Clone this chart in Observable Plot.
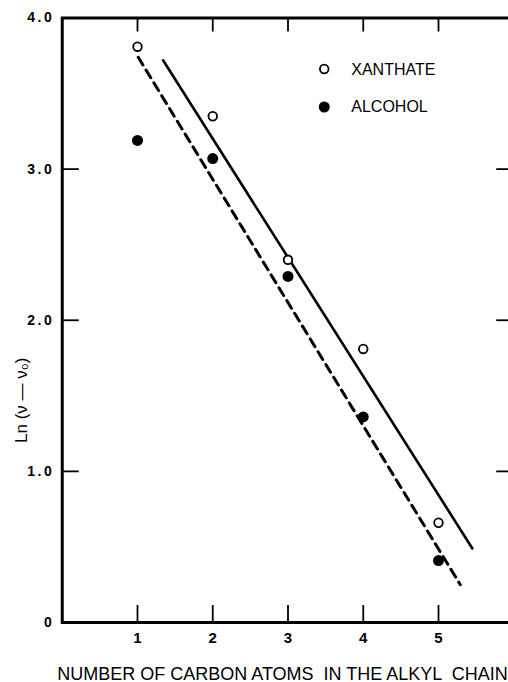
<!DOCTYPE html>
<html><head><meta charset="utf-8">
<script src="https://cdn.jsdelivr.net/npm/d3@7"></script>
<script src="https://cdn.jsdelivr.net/npm/@observablehq/plot@0.6"></script>
<style>
body{margin:0;background:#fff;}
#chart{width:508px;height:682px;overflow:hidden;}
#chart svg [aria-label="y-axis tick label"] text{letter-spacing:2.5px;}
#chart svg [aria-label="legend-text"] text{letter-spacing:1.3px;}
#chart svg [aria-label="y-title"] text{letter-spacing:2px;}
</style></head><body><div id="chart"></div>
<script>
// Data
const carbonAtoms = [1, 2, 3, 4, 5];
const xanthate = [3.81, 3.35, 2.40, 1.81, 0.66];
const alcohol = [3.19, 3.07, 2.29, 1.36, 0.41];
// fitted lines (end points as drawn)
const solidLineX = [1.34, 5.45];
const solidLineY = [3.72, 0.49];
const dashedLineX = [1.01, 5.29];
const dashedLineY = [3.74, 0.25];
// ticks
const xTicks = [1, 2, 3, 4, 5];
const yTicks = [0, 1, 2, 3, 4];
const yInnerTicks = [1, 2, 3];
const legendLabels = ["XANTHATE", "ALCOHOL"];
const xTitle = "NUMBER OF CARBON ATOMS  IN THE ALKYL  CHAIN";
const yTitle = "Ln (ν — ν₀)";

const xanthateData = carbonAtoms.map((c, i) => ({c, v: xanthate[i]}));
const alcoholData = carbonAtoms.map((c, i) => ({c, v: alcohol[i]}));
const solidData = solidLineX.map((x, i) => ({x, y: solidLineY[i]}));
const dashedData = dashedLineX.map((x, i) => ({x, y: dashedLineY[i]}));

const W = 508, H = 682;
const mL = 61.75, mT = 17.5, mB = 60, mR = -5.25;
const frameW = W - mR - mL, frameH = H - mB - mT;
const font = "'Liberation Sans', Arial, Helvetica, sans-serif";

const chart = Plot.plot({
  width: W, height: H,
  marginLeft: mL, marginTop: mT, marginBottom: mB, marginRight: mR,
  style: {fontFamily: font, background: "#fff", color: "#000"},
  x: {domain: [0, 6], axis: null},
  y: {domain: [0, 4], axis: null},
  marks: [
    Plot.frame({stroke: "#000", strokeWidth: 3}),
    // inward ticks
    Plot.tickX(xTicks, {x: d => d, insetTop: frameH - 17, stroke: "#000", strokeWidth: 1.8}),
    Plot.tickX(xTicks, {x: d => d, insetBottom: frameH - 14, stroke: "#000", strokeWidth: 1.8}),
    Plot.tickY(yInnerTicks, {y: d => d, insetRight: frameW - 17, stroke: "#000", strokeWidth: 1.8}),
    Plot.tickY(yInnerTicks, {y: d => d, insetLeft: frameW - 17, stroke: "#000", strokeWidth: 1.8}),
    Plot.axisX({ticks: xTicks, tickSize: 0, tickPadding: 10, fontSize: 15, fontWeight: "bold", label: null, tickFormat: d => String(d)}),
    Plot.axisY({ticks: yTicks, tickSize: 0, tickPadding: 8, fontSize: 14, fontWeight: "bold", label: null, tickFormat: d => d === 0 ? "0" : d.toFixed(1)}),
    // fitted lines
    Plot.line(solidData, {x: "x", y: "y", stroke: "#000", strokeWidth: 2.6}),
    Plot.line(dashedData, {x: "x", y: "y", stroke: "#000", strokeWidth: 3, strokeDasharray: "9,6"}),
    // points
    Plot.dot(xanthateData, {x: "c", y: "v", r: 4.3, fill: "#fff", stroke: "#000", strokeWidth: 1.8}),
    Plot.dot(alcoholData, {x: "c", y: "v", r: 5.5, fill: "#000", stroke: "none"}),
    // legend
    Plot.dot([legendLabels[0]], {frameAnchor: "top-left", dx: 262, dy: 51, r: 4.3, fill: "#fff", stroke: "#000", strokeWidth: 1.8}),
    Plot.dot([legendLabels[1]], {frameAnchor: "top-left", dx: 262, dy: 89, r: 5.5, fill: "#000", stroke: "none"}),
    Plot.text([legendLabels[0]], {text: d => d, frameAnchor: "top-left", dx: 289, dy: 52, textAnchor: "start", lineAnchor: "middle", fontSize: 16, fill: "#000", ariaLabel: "legend-text"}),
    Plot.text([legendLabels[1]], {text: d => d, frameAnchor: "top-left", dx: 289, dy: 89, textAnchor: "start", lineAnchor: "middle", fontSize: 16, fill: "#000", ariaLabel: "legend-text"}),
    // titles
    Plot.text([xTitle], {text: d => d, frameAnchor: "bottom-left", dx: -5, dy: 52, textAnchor: "start", lineAnchor: "middle", fontSize: 18, fill: "#000", ariaLabel: "x-title"}),
    Plot.text([yTitle], {text: d => d, frameAnchor: "left", dx: -41, dy: 80, rotate: -90, textAnchor: "middle", lineAnchor: "middle", fontSize: 17, fill: "#000", ariaLabel: "y-title"})
  ]
});
// stretch the x title letter spacing to match the original's wide lettering
d3.select(chart).select('[aria-label="x-title"] text')
  .attr("textLength", 466).attr("lengthAdjust", "spacing");
document.getElementById("chart").append(chart);
</script></body></html>
